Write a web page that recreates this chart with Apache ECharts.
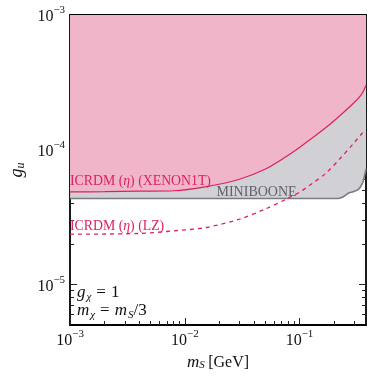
<!DOCTYPE html>
<html>
<head>
<meta charset="utf-8">
<script src="https://cdn.jsdelivr.net/npm/echarts@6/dist/echarts.min.js"></script>
<style>html,body{margin:0;padding:0;background:#fff}#c{width:374px;height:377px}</style>
</head>
<body>
<div id="c"></div>
<script>
// ---- data (GeV, coupling) ----
const xenonX = [0.001, 0.002, 0.004, 0.008, 0.015, 0.03, 0.05, 0.075, 0.1, 0.13, 0.17, 0.23, 0.3, 0.35, 0.38];
const xenonY = [4.86e-5, 4.88e-5, 4.92e-5, 4.96e-5, 5.3e-5, 6.04e-5, 7.16e-5, 8.8e-5, 1.04e-4, 1.225e-4, 1.46e-4, 1.82e-4, 2.24e-4, 2.6e-4, 3.01e-4];
const lzX = [0.001, 0.004, 0.008, 0.015, 0.03, 0.05, 0.075, 0.1, 0.13, 0.17, 0.23, 0.3, 0.35, 0.37];
const lzY = [2.36e-5, 2.39e-5, 2.5e-5, 2.64e-5, 3.05e-5, 3.62e-5, 4.26e-5, 4.84e-5, 5.64e-5, 6.7e-5, 8.75e-5, 1.13e-4, 1.32e-4, 1.42e-4];
const booneX = [0.001, 0.218, 0.241, 0.266, 0.294, 0.324, 0.351, 0.368, 0.38];
const booneY = [4.35e-5, 4.35e-5, 4.48e-5, 4.75e-5, 4.88e-5, 5.05e-5, 5.55e-5, 6.36e-5, 7.2e-5];
const xRange = [0.001, 0.38];
const yRange = [5e-6, 1e-3];
const xMajor = [1e-3, 1e-2, 1e-1];
const yMajor = [1e-5, 1e-4, 1e-3];
const minorMult = [2, 3, 4, 5, 6, 7, 8, 9];

const L = Math.log10;
function pairs(xs, ys){ return xs.map((x,i)=>[L(x), L(ys[i])]); }
function minors(range){
  const out = [];
  for (let e = Math.floor(L(range[0])); e <= Math.ceil(L(range[1])); e++) {
    minorMult.forEach(k => { const v = k * Math.pow(10, e); if (v > range[0]*1.0001 && v < range[1]*0.9999) out.push(L(v)); });
  }
  return out;
}
const SERIF = "'Liberation Serif','DejaVu Serif',serif";
const supFmt = v => '{a|10}{b|\u2212' + Math.round(-v) + '}';
const labRich = {
  a: {fontFamily: SERIF, fontSize: 16, color: '#111', lineHeight: 20, verticalAlign: 'bottom'},
  b: {fontFamily: SERIF, fontSize: 11, color: '#111', lineHeight: 20, verticalAlign: 'top'}
};
const xmin = L(xRange[0]), xmax = L(xRange[1]), ymin = L(yRange[0]), ymax = L(yRange[1]);
const xMaj = xMajor.map(L), yMaj = yMajor.map(L), xMin = minors(xRange), yMin = minors(yRange);

function ax(pos, vals, len, showLine, labels, isX){
  const o = {
    type: 'value', position: pos, min: isX ? xmin : ymin, max: isX ? xmax : ymax,
    splitLine: {show: false},
    axisLine: {show: showLine, onZero: false, lineStyle: {color: '#000', width: 1.8}},
    axisTick: {show: true, inside: true, length: len, customValues: vals, lineStyle: {color: '#222', width: 1}},
    axisLabel: {show: !!labels}
  };
  if (labels) {
    o.axisLabel = {show: true, customValues: vals, formatter: supFmt, rich: labRich, margin: isX ? 4 : 5};
  }
  return o;
}
const CRIMSON = '#DC2160';
const mathRich = {
  i: {fontFamily: SERIF, fontStyle: 'italic', fontSize: 17, fill: '#111'},
  s: {fontFamily: SERIF, fontStyle: 'italic', fontSize: 11, fill: '#111', verticalAlign: 'bottom', padding: [8,0,0,1]},
  n: {fontFamily: SERIF, fontSize: 17, fill: '#111'},
  e: {fontFamily: SERIF, fontSize: 17, fill: '#111', padding: [0,5,0,5]}
};
const redRich = {n: {fontFamily: SERIF, fontSize: 13.8, fill: CRIMSON}, i: {fontFamily: SERIF, fontStyle: 'italic', fontSize: 13.8, fill: CRIMSON}};
const option = {
  animation: false,
  grid: {left: 65, right: 8, top: 15, bottom: 52, containLabel: false},
  xAxis: [
    Object.assign(ax('bottom', xMaj, 7, true, true, true), {
      name: '{i|m}{s|S} {n|[GeV]}', nameLocation: 'middle', nameGap: 26,
      nameTextStyle: {rich: {
        i: {fontFamily: SERIF, fontStyle: 'italic', fontSize: 17, color: '#111'},
        s: {fontFamily: SERIF, fontStyle: 'italic', fontSize: 11, color: '#111', verticalAlign: 'bottom', padding: [6,0,0,0]},
        n: {fontFamily: SERIF, fontSize: 16, color: '#111'}
      }}
    }),
    ax('bottom', xMin, 4, false, false, true),
    ax('top', xMaj, 7, true, false, true),
    ax('top', xMin, 4, false, false, true)
  ],
  yAxis: [
    Object.assign(ax('left', yMaj, 7, true, true, false), {
      name: '{i|g}{s|u}', nameLocation: 'middle', nameGap: 40, nameRotate: 90,
      nameTextStyle: {rich: {
        i: {fontFamily: SERIF, fontStyle: 'italic', fontSize: 18, color: '#111'},
        s: {fontFamily: SERIF, fontStyle: 'italic', fontSize: 12, color: '#111', verticalAlign: 'bottom', padding: [7,0,0,0]}
      }}
    }),
    ax('left', yMin, 4, false, false, false),
    ax('right', yMaj, 7, true, false, false),
    ax('right', yMin, 4, false, false, false)
  ],
  series: [
    {type: 'line', data: pairs(booneX, booneY), showSymbol: false, smooth: 0.3, z: 1,
     lineStyle: {color: '#7c7c80', width: 1.6}, areaStyle: {origin: 'end', color: '#D1D1D5', opacity: 1}},
    {type: 'line', data: pairs(xenonX, xenonY), showSymbol: false, smooth: 0.3, z: 2,
     lineStyle: {color: CRIMSON, width: 1.2}, areaStyle: {origin: 'end', color: '#F1B5CA', opacity: 1}},
    {type: 'line', data: pairs(lzX, lzY), showSymbol: false, smooth: 0.3, z: 3,
     lineStyle: {color: CRIMSON, width: 1.3, type: [4, 4]}}
  ],
  graphic: [
    {type: 'text', x: 70, y: 181, z: 10, style: {text: '{n|ICRDM (}{i|\u03b7}{n|) (XENON1T)}', verticalAlign: 'middle', rich: redRich}},
    {type: 'text', x: 70, y: 226.5, z: 10, style: {text: '{n|ICRDM (}{i|\u03b7}{n|) (LZ)}', verticalAlign: 'middle', rich: redRich}},
    {type: 'text', x: 216.5, y: 192.5, z: 10, style: {text: 'MINIBOONE', verticalAlign: 'middle', fontFamily: SERIF, fontSize: 14, fill: '#5d616b'}},
    {type: 'text', x: 77, y: 293, z: 10, style: {text: '{i|g}{s|\u03c7}{e|=}{n|1}', verticalAlign: 'middle', rich: mathRich}},
    {type: 'text', x: 77, y: 311, z: 10, style: {text: '{i|m}{s|\u03c7}{e|=}{i|m}{s|S}{n|/3}', verticalAlign: 'middle', rich: mathRich}}
  ]
};
const chart = echarts.init(document.getElementById('c'), null, {renderer: 'canvas'});
chart.setOption(option);
</script>
</body>
</html>
